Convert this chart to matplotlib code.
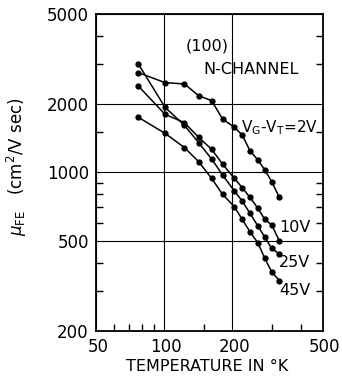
import matplotlib
matplotlib.use("Agg")
import matplotlib.pyplot as plt
from matplotlib.ticker import FixedLocator, FixedFormatter, NullFormatter
from matplotlib.transforms import ScaledTranslation

# ---- data ----
temps = [77, 101, 123, 142, 162, 181, 204, 221, 239, 259, 278, 298, 322]
mu_2v = [2756, 2489, 2456, 2181, 2073, 1721, 1581, 1462, 1247, 1134, 1025, 910, 776]
mu_10v = [2406, 1804, 1657, 1428, 1264, 1089, 941, 856, 776, 694, 620, 586, 499]
mu_25v = [3011, 1937, 1613, 1353, 1146, 974, 828, 747, 660, 580, 517, 462, 436]
mu_45v = [1750, 1487, 1286, 1115, 941, 800, 706, 620, 547, 488, 417, 364, 333]

x_major = [50, 100, 200, 500]
x_major_labels = ["50", "100", "200", "500"]
x_minor = [60, 70, 80, 90, 150, 300, 400]
y_major = [200, 500, 1000, 2000, 5000]
y_major_labels = ["200", "500", "1000", "2000", "5000"]
y_minor = [300, 400, 600, 700, 800, 900, 1500, 3000, 4000]

series = [mu_2v, mu_10v, mu_25v, mu_45v]

plt.rcParams['font.family'] = ['DejaVu Sans']
fig = plt.figure(figsize=(3.42, 3.83), dpi=100)
ax = fig.add_axes([95.7 / 342, 1 - 330.7 / 383, 227 / 342, 316.7 / 383])

for s in series:
    ax.plot(temps, s, color='black', lw=1.1, marker='o', ms=3.5,
            mec='black', mfc='black', zorder=3)

ax.set_xscale('log')
ax.set_yscale('log')
ax.set_xlim(50, 500)
ax.set_ylim(200, 5000)

ax.xaxis.set_major_locator(FixedLocator(x_major))
ax.xaxis.set_major_formatter(FixedFormatter(x_major_labels))
ax.xaxis.set_minor_locator(FixedLocator(x_minor))
ax.xaxis.set_minor_formatter(NullFormatter())
ax.yaxis.set_major_locator(FixedLocator(y_major))
ax.yaxis.set_major_formatter(FixedFormatter(y_major_labels))
ax.yaxis.set_minor_locator(FixedLocator(y_minor))
ax.yaxis.set_minor_formatter(NullFormatter())

ax.tick_params(axis='both', which='major', length=0, labelsize=12, pad=5)
ax.tick_params(axis='x', which='minor', direction='in', length=5, width=1.0,
               bottom=True, top=False)
ax.tick_params(axis='y', which='minor', direction='in', length=5, width=1.0,
               left=True, right=True)
for lab in ax.get_xticklabels():
    lab.set_transform(lab.get_transform() + ScaledTranslation(1.5 / 72, 0, fig.dpi_scale_trans))

ax.grid(True, which='major', color='black', lw=0.8)
for sp in ax.spines.values():
    sp.set_linewidth(1.3)

ax.set_xlabel("TEMPERATURE IN °K", fontsize=11.5)
ax.xaxis.set_label_coords(0.489, -0.114)
ax.xaxis.label.set_va('center')
ax.set_ylabel(r"$\mu_{\mathregular{FE}}$   (cm$^2$/V sec)", fontsize=12)
ax.yaxis.set_label_coords(-0.347, 0.517)
ax.yaxis.label.set_va('center')

kw = dict(transform=ax.transAxes, ha='center', va='center', fontsize=11.5)
ax.text(0.4925, 0.899, "(100)", **kw)
ax.text(0.686, 0.826, "N-CHANNEL", **kw)
ax.text(0.81, 0.641, r"V$_\mathregular{G}$-V$_\mathregular{T}$=2V",
        transform=ax.transAxes, ha='center', va='center', fontsize=11)
ax.text(0.878, 0.326, "10V", **kw)
ax.text(0.876, 0.215, "25V", **kw)
ax.text(0.876, 0.127, "45V", **kw)

fig.savefig("out.png", dpi=100)
